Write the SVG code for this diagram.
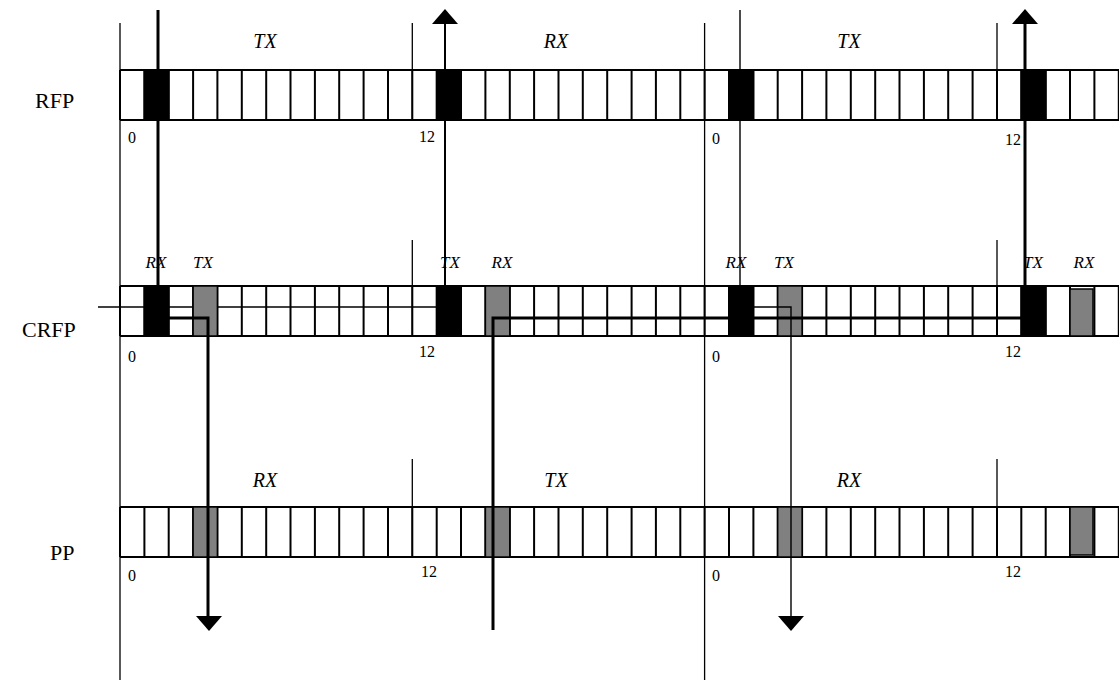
<svg xmlns="http://www.w3.org/2000/svg" xmlns:xlink="http://www.w3.org/1999/xlink" width="1119" height="680" viewBox="0 0 1119 680">
<style>
.bg{fill:#fff}
.cell{fill:none;stroke:#000;stroke-width:2}
.blk{fill:#000;stroke:#000;stroke-width:1.5}
.gry{fill:#808080;stroke:#000;stroke-width:1.5}
.sep{stroke:#000;stroke-width:1.3;fill:none}
.thick{stroke:#000;stroke-width:3;fill:none}
.mid{stroke:#000;stroke-width:2;fill:none}
.thin{stroke:#000;stroke-width:1.4;fill:none}
.head{fill:#000}
.name{font-family:"Liberation Serif",serif;font-size:22px;fill:#000}
.big{font-family:"Liberation Serif",serif;font-style:italic;font-size:20px;fill:#000;text-anchor:middle}
.small{font-family:"Liberation Serif",serif;font-style:italic;font-size:17px;fill:#000;text-anchor:middle}
.num{font-family:"Liberation Serif",serif;font-size:16px;fill:#000}
</style>
<defs>
<path id="cells" class="cell" d="M120 0V50M144.4 0V50M168.7 0V50M193.1 0V50M217.4 0V50M241.8 0V50M266.2 0V50M290.5 0V50M314.9 0V50M339.2 0V50M363.6 0V50M388 0V50M412.3 0V50M436.7 0V50M461 0V50M485.4 0V50M509.8 0V50M534.1 0V50M558.5 0V50M582.8 0V50M607.2 0V50M631.6 0V50M655.9 0V50M680.3 0V50M704.6 0V50M729 0V50M753.4 0V50M777.7 0V50M802.1 0V50M826.4 0V50M850.8 0V50M875.2 0V50M899.5 0V50M923.9 0V50M948.2 0V50M972.6 0V50M997 0V50M1021.3 0V50M1045.7 0V50M1070 0V50M1094.4 0V50M1118.8 0V50M120 0H1119M120 50H1119"/>
</defs>
<rect class="bg" x="0" y="0" width="1119" height="680"/>

<g id="separators">
<path class="sep" d="M120 23V680M704.6 23V680M412.3 23V121M412.3 240V337M412.3 459V558M997 23V121M997 240V337M997 459V558"/>
</g>

<g id="rfp">
<text class="name" x="35" y="108">RFP</text>
<use xlink:href="#cells" y="70"/>
<rect class="blk" x="144.4" y="70" width="24.3" height="50"/>
<rect class="blk" x="436.7" y="70" width="24.3" height="50"/>
<rect class="blk" x="729" y="70" width="24.4" height="50"/>
<rect class="blk" x="1021.3" y="70" width="24.4" height="50"/>
<text class="big" x="265" y="48">TX</text>
<text class="big" x="556" y="48">RX</text>
<text class="big" x="849" y="48">TX</text>
<text class="num" x="128" y="143">0</text>
<text class="num" x="419" y="142">12</text>
<text class="num" x="712" y="144">0</text>
<text class="num" x="1005" y="145">12</text>
</g>

<g id="crfp">
<text class="name" x="22" y="337">CRFP</text>
<use xlink:href="#cells" y="286"/>
<path class="thin" d="M98 307H437"/>
<rect class="blk" x="144.4" y="286" width="24.3" height="50"/>
<rect class="gry" x="193.1" y="286" width="24.3" height="50"/>
<rect class="blk" x="436.7" y="286" width="24.3" height="50"/>
<rect class="gry" x="485.4" y="286" width="24.4" height="50"/>
<rect class="blk" x="729" y="286" width="24.4" height="50"/>
<rect class="gry" x="777.7" y="286" width="24.4" height="50"/>
<rect class="blk" x="1021.3" y="286" width="24.4" height="50"/>
<rect class="gry" x="1070" y="289" width="23" height="47"/>
<text class="small" x="156" y="268">RX</text>
<text class="small" x="203" y="268">TX</text>
<text class="small" x="450" y="268">TX</text>
<text class="small" x="502" y="268">RX</text>
<text class="small" x="736" y="268">RX</text>
<text class="small" x="784" y="268">TX</text>
<text class="small" x="1033" y="268">TX</text>
<text class="small" x="1084" y="268">RX</text>
<text class="num" x="128" y="362">0</text>
<text class="num" x="419" y="357">12</text>
<text class="num" x="712" y="362">0</text>
<text class="num" x="1005" y="357">12</text>
</g>

<g id="pp">
<text class="name" x="50" y="560">PP</text>
<use xlink:href="#cells" y="507"/>
<rect class="gry" x="193.1" y="507" width="24.3" height="50"/>
<rect class="gry" x="485.4" y="507" width="24.4" height="50"/>
<rect class="gry" x="777.7" y="507" width="24.4" height="50"/>
<rect class="gry" x="1070" y="507" width="23" height="48"/>
<text class="big" x="265" y="487">RX</text>
<text class="big" x="556" y="487">TX</text>
<text class="big" x="849" y="487">RX</text>
<text class="num" x="128" y="581">0</text>
<text class="num" x="421" y="577">12</text>
<text class="num" x="712" y="581">0</text>
<text class="num" x="1005" y="577">12</text>
</g>

<g id="connectors">
<path class="thick" d="M158 10V318H208V617"/>
<polygon class="head" points="196,616 222,616 209,631"/>
<path class="mid" d="M445 287V22"/>
<polygon class="head" points="432,24 458,24 445,9"/>
<path class="thick" d="M493 630V318H1025V22"/>
<polygon class="head" points="1012,24 1038,24 1025,9"/>
<path class="thin" d="M740 10V307H791V617"/>
<polygon class="head" points="778,616 804,616 791,631"/>
</g>
</svg>
